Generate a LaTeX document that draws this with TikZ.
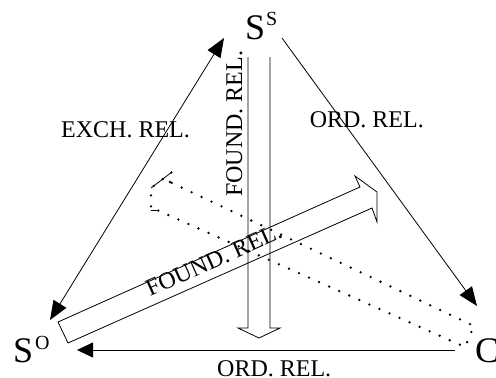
\documentclass[tikz,border=0pt]{standalone}
\usepackage{fontspec}
\setmainfont{Liberation Serif}
\usetikzlibrary{arrows.meta}
\tikzset{
  rel/.style={line width=0.8pt, -{Triangle[length=19pt,width=15pt]}},
  hollow/.style={line width=0.8pt, line join=miter},
  dotline/.style={line width=2.6pt, line cap=round, dash pattern=on 0pt off 11pt},
  lbl/.style={inner sep=0pt, font=\fontsize{24}{24}\selectfont},
  big/.style={inner sep=0pt, anchor=base west, font=\fontsize{36}{36}\selectfont},
  sup/.style={inner sep=0pt, anchor=base west, font=\fontsize{20}{20}\selectfont},
}
\begin{document}
\begin{tikzpicture}[x=1pt, y=-1pt]
\useasboundingbox (0,0) rectangle (496,378);

% vertices
\node[big] (so) at (13,362) {S};
\node[sup] (sosup) at (35,349) {O};
\node[big] (ss) at (245,39) {S};
\node[sup] (sssup) at (266,25) {S};
\node[big] (c) at (475,362) {C};

% end points of the relation arrows
\coordinate (lt) at (224,38);
\coordinate (lb) at (50,320);
\coordinate (rt) at (282,38);
\coordinate (rb) at (477,306);
\coordinate (br) at (455,350);
\coordinate (bl) at (77,350);

\draw[rel, {Triangle[length=19pt,width=15pt]}-{Triangle[length=19pt,width=15pt]}] (lt) -- (lb);
\draw[rel] (rt) -- (rb);
\draw[rel, -{Triangle[length=16pt,width=15pt]}] (br) -- (bl);

% vertical hollow arrow
\coordinate (v1) at (248,57);
\coordinate (v2) at (248,328);
\coordinate (v3) at (238,328);
\coordinate (v4) at (259,338);
\coordinate (v5) at (280,328);
\coordinate (v6) at (270,328);
\coordinate (v7) at (270,57);
\draw[hollow] (v1) -- (v2) -- (v3) -- (v4) -- (v5) -- (v6) -- (v7);

% diagonal hollow arrow
\coordinate (d1) at (58,322);
\coordinate (d2) at (360,187);
\coordinate (d3) at (355,176);
\coordinate (d4) at (377,192);
\coordinate (d5) at (377,222);
\coordinate (d6) at (372,208);
\coordinate (d7) at (68,343);
\draw[hollow] (d1) -- (d2) -- (d3) -- (d4) -- (d5) -- (d6) -- (d7) -- cycle;

% dotted hollow arrow
\coordinate (p1) at (170,182);
\coordinate (p2) at (172,172);
\coordinate (p3) at (151,188);
\coordinate (p4) at (151,210);
\coordinate (p5) at (157,210);
\coordinate (p6) at (465,347);
\coordinate (p7) at (474,326);
\draw[dotline] (p1) -- (p2) -- (p3) -- (p4) -- (p5) -- (p6) -- (p7) -- cycle;
\draw[line width=0.8pt] (p2) -- (p3);
\draw[line width=0.8pt] (p4) -- (p5);

% labels
\node[lbl, anchor=base west] (exch) at (61,137) {EXCH. REL.};
\node[lbl, anchor=base east] (ordr) at (424,127) {ORD. REL.};
\node[lbl, anchor=base west] (ordb) at (217,376) {ORD. REL.};
\node[lbl, anchor=base west, rotate=90] (fv) at (242,197) {FOUND. REL.};
\node[lbl, anchor=base west, rotate=24] (fd) at (150,297) {FOUND. REL.};
\end{tikzpicture}
\end{document}
